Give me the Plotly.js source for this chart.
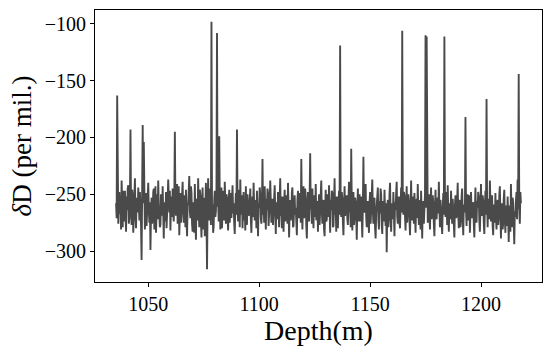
<!DOCTYPE html>
<html>
<head>
<meta charset="utf-8">
<script src="https://cdn.plot.ly/plotly-3.0.1.min.js"></script>
<style>
  body { margin: 0; background: #fff; }
  #plot1 { width: 552px; height: 352px; }
</style>
</head>
<body>
<div id="plot1"></div>
<script>
// sample depths (m), 0.25 m spacing
var depth = [
  1035.5,1035.75,1036,1036.25,1036.5,1036.75,1037,1037.25,1037.5,1037.75,1038,1038.25,1038.5,1038.75,1039,1039.25,1039.5,1039.75,1040,1040.25,1040.5,1040.75,1041,1041.25,1041.5,1041.75,1042,1042.25,1042.5,1042.75,1043,1043.25,1043.5,1043.75,1044,1044.25,1044.5,1044.75,1045,1045.25,
  1045.5,1045.75,1046,1046.25,1046.5,1046.75,1047,1047.25,1047.5,1047.75,1048,1048.25,1048.5,1048.75,1049,1049.25,1049.5,1049.75,1050,1050.25,1050.5,1050.75,1051,1051.25,1051.5,1051.75,1052,1052.25,1052.5,1052.75,1053,1053.25,1053.5,1053.75,1054,1054.25,1054.5,1054.75,1055,1055.25,
  1055.5,1055.75,1056,1056.25,1056.5,1056.75,1057,1057.25,1057.5,1057.75,1058,1058.25,1058.5,1058.75,1059,1059.25,1059.5,1059.75,1060,1060.25,1060.5,1060.75,1061,1061.25,1061.5,1061.75,1062,1062.25,1062.5,1062.75,1063,1063.25,1063.5,1063.75,1064,1064.25,1064.5,1064.75,1065,1065.25,
  1065.5,1065.75,1066,1066.25,1066.5,1066.75,1067,1067.25,1067.5,1067.75,1068,1068.25,1068.5,1068.75,1069,1069.25,1069.5,1069.75,1070,1070.25,1070.5,1070.75,1071,1071.25,1071.5,1071.75,1072,1072.25,1072.5,1072.75,1073,1073.25,1073.5,1073.75,1074,1074.25,1074.5,1074.75,1075,1075.25,
  1075.5,1075.75,1076,1076.25,1076.5,1076.75,1077,1077.25,1077.5,1077.75,1078,1078.25,1078.5,1078.75,1079,1079.25,1079.5,1079.75,1080,1080.25,1080.5,1080.75,1081,1081.25,1081.5,1081.75,1082,1082.25,1082.5,1082.75,1083,1083.25,1083.5,1083.75,1084,1084.25,1084.5,1084.75,1085,1085.25,
  1085.5,1085.75,1086,1086.25,1086.5,1086.75,1087,1087.25,1087.5,1087.75,1088,1088.25,1088.5,1088.75,1089,1089.25,1089.5,1089.75,1090,1090.25,1090.5,1090.75,1091,1091.25,1091.5,1091.75,1092,1092.25,1092.5,1092.75,1093,1093.25,1093.5,1093.75,1094,1094.25,1094.5,1094.75,1095,1095.25,
  1095.5,1095.75,1096,1096.25,1096.5,1096.75,1097,1097.25,1097.5,1097.75,1098,1098.25,1098.5,1098.75,1099,1099.25,1099.5,1099.75,1100,1100.25,1100.5,1100.75,1101,1101.25,1101.5,1101.75,1102,1102.25,1102.5,1102.75,1103,1103.25,1103.5,1103.75,1104,1104.25,1104.5,1104.75,1105,1105.25,
  1105.5,1105.75,1106,1106.25,1106.5,1106.75,1107,1107.25,1107.5,1107.75,1108,1108.25,1108.5,1108.75,1109,1109.25,1109.5,1109.75,1110,1110.25,1110.5,1110.75,1111,1111.25,1111.5,1111.75,1112,1112.25,1112.5,1112.75,1113,1113.25,1113.5,1113.75,1114,1114.25,1114.5,1114.75,1115,1115.25,
  1115.5,1115.75,1116,1116.25,1116.5,1116.75,1117,1117.25,1117.5,1117.75,1118,1118.25,1118.5,1118.75,1119,1119.25,1119.5,1119.75,1120,1120.25,1120.5,1120.75,1121,1121.25,1121.5,1121.75,1122,1122.25,1122.5,1122.75,1123,1123.25,1123.5,1123.75,1124,1124.25,1124.5,1124.75,1125,1125.25,
  1125.5,1125.75,1126,1126.25,1126.5,1126.75,1127,1127.25,1127.5,1127.75,1128,1128.25,1128.5,1128.75,1129,1129.25,1129.5,1129.75,1130,1130.25,1130.5,1130.75,1131,1131.25,1131.5,1131.75,1132,1132.25,1132.5,1132.75,1133,1133.25,1133.5,1133.75,1134,1134.25,1134.5,1134.75,1135,1135.25,
  1135.5,1135.75,1136,1136.25,1136.5,1136.75,1137,1137.25,1137.5,1137.75,1138,1138.25,1138.5,1138.75,1139,1139.25,1139.5,1139.75,1140,1140.25,1140.5,1140.75,1141,1141.25,1141.5,1141.75,1142,1142.25,1142.5,1142.75,1143,1143.25,1143.5,1143.75,1144,1144.25,1144.5,1144.75,1145,1145.25,
  1145.5,1145.75,1146,1146.25,1146.5,1146.75,1147,1147.25,1147.5,1147.75,1148,1148.25,1148.5,1148.75,1149,1149.25,1149.5,1149.75,1150,1150.25,1150.5,1150.75,1151,1151.25,1151.5,1151.75,1152,1152.25,1152.5,1152.75,1153,1153.25,1153.5,1153.75,1154,1154.25,1154.5,1154.75,1155,1155.25,
  1155.5,1155.75,1156,1156.25,1156.5,1156.75,1157,1157.25,1157.5,1157.75,1158,1158.25,1158.5,1158.75,1159,1159.25,1159.5,1159.75,1160,1160.25,1160.5,1160.75,1161,1161.25,1161.5,1161.75,1162,1162.25,1162.5,1162.75,1163,1163.25,1163.5,1163.75,1164,1164.25,1164.5,1164.75,1165,1165.25,
  1165.5,1165.75,1166,1166.25,1166.5,1166.75,1167,1167.25,1167.5,1167.75,1168,1168.25,1168.5,1168.75,1169,1169.25,1169.5,1169.75,1170,1170.25,1170.5,1170.75,1171,1171.25,1171.5,1171.75,1172,1172.25,1172.5,1172.75,1173,1173.25,1173.5,1173.75,1174,1174.25,1174.5,1174.75,1175,1175.25,
  1175.5,1175.75,1176,1176.25,1176.5,1176.75,1177,1177.25,1177.5,1177.75,1178,1178.25,1178.5,1178.75,1179,1179.25,1179.5,1179.75,1180,1180.25,1180.5,1180.75,1181,1181.25,1181.5,1181.75,1182,1182.25,1182.5,1182.75,1183,1183.25,1183.5,1183.75,1184,1184.25,1184.5,1184.75,1185,1185.25,
  1185.5,1185.75,1186,1186.25,1186.5,1186.75,1187,1187.25,1187.5,1187.75,1188,1188.25,1188.5,1188.75,1189,1189.25,1189.5,1189.75,1190,1190.25,1190.5,1190.75,1191,1191.25,1191.5,1191.75,1192,1192.25,1192.5,1192.75,1193,1193.25,1193.5,1193.75,1194,1194.25,1194.5,1194.75,1195,1195.25,
  1195.5,1195.75,1196,1196.25,1196.5,1196.75,1197,1197.25,1197.5,1197.75,1198,1198.25,1198.5,1198.75,1199,1199.25,1199.5,1199.75,1200,1200.25,1200.5,1200.75,1201,1201.25,1201.5,1201.75,1202,1202.25,1202.5,1202.75,1203,1203.25,1203.5,1203.75,1204,1204.25,1204.5,1204.75,1205,1205.25,
  1205.5,1205.75,1206,1206.25,1206.5,1206.75,1207,1207.25,1207.5,1207.75,1208,1208.25,1208.5,1208.75,1209,1209.25,1209.5,1209.75,1210,1210.25,1210.5,1210.75,1211,1211.25,1211.5,1211.75,1212,1212.25,1212.5,1212.75,1213,1213.25,1213.5,1213.75,1214,1214.25,1214.5,1214.75,1215,1215.25,
  1215.5,1215.75,1216,1216.25,1216.5,1216.75,1217,1217.25,1217.5,1217.75,1218
];

// deltaD values (per mil)
var deltaD = [
  -258,-271,-163,-262,-276,-250,-248,-267,-262,-281,-238,-259,-279,-247,-255,-274,-247,-268,-283,-252,-264,-245,-242,-276,-271,-256,-193,-263,-277,-246,-251,-284,-268,-249,-236,-270,-280,-253,-257,-266,
  -244,-262,-273,-248,-259,-278,-308,-265,-189,-258,-204,-247,-281,-263,-249,-278,-266,-251,-240,-264,-275,-257,-299,-268,-253,-276,-270,-248,-245,-281,-262,-243,-284,-260,-250,-272,-238,-259,-268,-279,
  -277,-250,-256,-269,-243,-264,-289,-257,-261,-274,-248,-280,-272,-255,-237,-261,-266,-247,-282,-259,-252,-270,-245,-267,-274,-252,-195,-258,-269,-253,-241,-276,-258,-243,-286,-262,-249,-275,-263,-244,
  -239,-266,-275,-251,-254,-279,-246,-272,-287,-260,-258,-247,-234,-265,-271,-243,-249,-276,-283,-257,-262,-284,-241,-268,-290,-254,-256,-273,-236,-262,-279,-246,-251,-274,-288,-259,-244,-281,-270,-253,
  -287,-258,-240,-271,-316,-262,-236,-266,-273,-245,-250,-277,-98,-263,-259,-284,-278,-255,-247,-270,-265,-248,-108,-261,-252,-274,-199,-256,-281,-262,-244,-280,-269,-247,-257,-273,-239,-262,-276,-250,
  -253,-270,-282,-259,-246,-275,-263,-249,-271,-254,-242,-267,-258,-276,-285,-262,-249,-268,-193,-259,-274,-246,-255,-279,-237,-263,-268,-251,-280,-258,-248,-273,-261,-282,-243,-265,-277,-250,-256,-269,
  -266,-253,-245,-272,-284,-263,-252,-270,-240,-261,-273,-255,-259,-280,-247,-266,-287,-258,-262,-244,-250,-271,-276,-260,-219,-268,-257,-275,-243,-262,-281,-254,-264,-245,-249,-278,-271,-256,-238,-264,
  -275,-261,-254,-277,-268,-250,-242,-265,-285,-257,-260,-272,-248,-264,-279,-253,-236,-269,-263,-280,-252,-266,-283,-259,-246,-274,-270,-251,-258,-276,-240,-263,-288,-262,-255,-273,-267,-248,-244,-279,
  -278,-260,-251,-268,-262,-274,-286,-255,-247,-266,-271,-249,-256,-275,-219,-262,-281,-257,-243,-271,-265,-245,-253,-278,-289,-262,-248,-269,-274,-252,-214,-263,-260,-276,-245,-265,-280,-251,-257,-270,
  -241,-273,-269,-256,-283,-262,-250,-277,-263,-247,-238,-266,-276,-258,-255,-281,-287,-263,-246,-274,-272,-250,-259,-270,-242,-265,-284,-255,-264,-247,-249,-279,-278,-258,-236,-268,-261,-283,-252,-264,
  -280,-259,-247,-268,-119,-262,-270,-248,-254,-275,-286,-261,-243,-269,-265,-254,-251,-272,-277,-257,-239,-266,-260,-279,-210,-258,-282,-264,-248,-277,-271,-253,-257,-268,-290,-262,-245,-274,-263,-250,
  -274,-263,-252,-271,-288,-260,-217,-265,-266,-254,-241,-270,-279,-262,-256,-273,-284,-258,-248,-276,-262,-251,-237,-265,-276,-258,-253,-280,-289,-267,-259,-248,-244,-272,-281,-256,-267,-245,-250,-277,
  -285,-256,-261,-274,-246,-266,-278,-258,-301,-262,-255,-279,-271,-250,-240,-268,-283,-262,-258,-272,-248,-267,-287,-257,-264,-249,-239,-270,-276,-260,-252,-275,-280,-261,-244,-266,-106,-255,-268,-248,
  -251,-270,-282,-262,-243,-275,-267,-250,-257,-279,-286,-263,-238,-265,-273,-252,-260,-276,-249,-268,-284,-259,-254,-271,-241,-266,-277,-255,-263,-281,-247,-270,-289,-259,-256,-276,-268,-250,-110,-262,
  -111,-256,-275,-263,-250,-269,-281,-258,-244,-272,-266,-251,-258,-276,-287,-262,-246,-270,-272,-257,-253,-267,-239,-262,-279,-255,-262,-274,-285,-263,-249,-268,-111,-259,-270,-248,-256,-277,-242,-266,
  -283,-262,-258,-272,-247,-265,-276,-254,-264,-277,-288,-260,-251,-271,-269,-256,-240,-268,-280,-261,-255,-279,-273,-252,-245,-270,-286,-259,-261,-266,-182,-264,-278,-255,-250,-273,-266,-251,-284,-260,
  -248,-266,-271,-259,-257,-276,-288,-263,-244,-270,-275,-256,-262,-248,-252,-273,-283,-262,-241,-266,-269,-251,-256,-275,-285,-262,-247,-268,-166,-258,-279,-254,-260,-272,-238,-265,-274,-259,-251,-278,
  -286,-259,-263,-275,-249,-270,-281,-262,-255,-277,-270,-251,-243,-268,-289,-264,-258,-281,-276,-254,-246,-272,-284,-260,-265,-278,-252,-269,-292,-262,-260,-283,-241,-266,-279,-253,-257,-276,-294,-265,
  -270,-256,-248,-272,-237,-263,-144,-262,-276,-248,-258
];

var trace = {
  x: depth,
  y: deltaD,
  type: "scatter",
  mode: "lines",
  line: { color: "#4a4a4a", width: 1.9 },
  hoverinfo: "none"
};

var data = [trace];

var font = "Liberation Serif, DejaVu Serif, serif";

var layout = {
  width: 552,
  height: 352,
  margin: { l: 95, r: 10, t: 10, b: 70 },
  paper_bgcolor: "#fff",
  plot_bgcolor: "#fff",
  showlegend: false,
  font: { family: font, color: "#000", size: 20 },
  xaxis: {
    range: [1026, 1227.5],
    tickvals: [1050, 1100, 1150, 1200],
    ticks: "outside",
    ticklen: 4,
    tickwidth: 1,
    tickcolor: "#000",
    showline: true,
    linecolor: "#000",
    linewidth: 1,
    mirror: true,
    showgrid: false,
    zeroline: false,
    tickfont: { family: font, size: 20 },
    title: { text: "Depth(m)", font: { family: font, size: 28 }, standoff: 3 }
  },
  yaxis: {
    range: [-327.3, -87.7],
    tickvals: [-300, -250, -200, -150, -100],
    ticks: "outside",
    ticklen: 4,
    tickwidth: 1,
    tickcolor: "#000",
    showline: true,
    linecolor: "#000",
    linewidth: 1,
    mirror: true,
    showgrid: false,
    zeroline: false,
    tickfont: { family: font, size: 20 },
    title: { text: "<i>δ</i>D (per mil.)", font: { family: font, size: 27 }, standoff: 5 }
  }
};

Plotly.newPlot("plot1", data, layout, { staticPlot: true, displayModeBar: false });
</script>
</body>
</html>
